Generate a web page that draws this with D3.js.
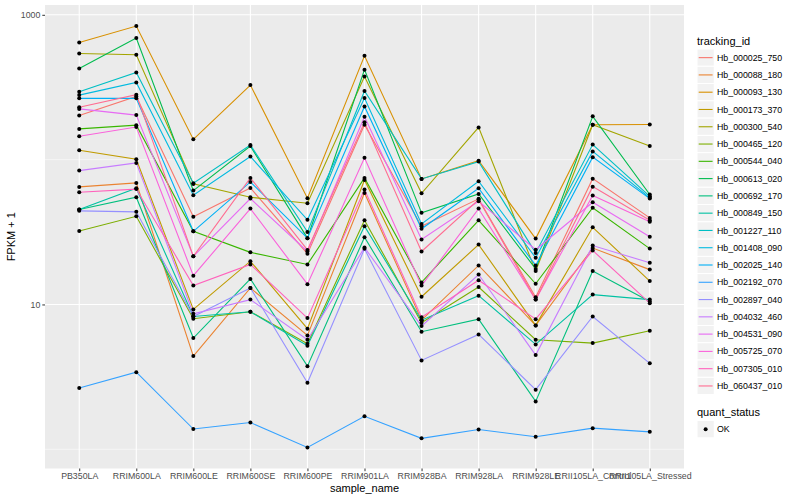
<!DOCTYPE html>
<html lang="en">
<head>
  <meta charset="UTF-8">
  <script src="https://d3js.org/d3.v7.min.js"></script>
  <style>
    body { margin: 0; background: white; }
    text { font-family: "Liberation Sans", Arial, sans-serif; }
  </style>
</head>
<body>
  <script>
    const width = 800, height = 500;

    const samples = ["PB350LA", "RRIM600LA", "RRIM600LE", "RRIM600SE", "RRIM600PE", "RRIM901LA",
      "RRIM928BA", "RRIM928LA", "RRIM928LE", "RRII105LA_Control", "RRII105LA_Stressed"];

    const trackingIds = ["Hb_000025_750", "Hb_000088_180", "Hb_000093_130", "Hb_000173_370", "Hb_000300_540",
      "Hb_000465_120", "Hb_000544_040", "Hb_000613_020", "Hb_000692_170", "Hb_000849_150",
      "Hb_001227_110", "Hb_001408_090", "Hb_002025_140", "Hb_002192_070", "Hb_002897_040",
      "Hb_004032_460", "Hb_004531_090", "Hb_005725_070", "Hb_007305_010", "Hb_060437_010"];

    // FPKM + 1, one value per sample
    const hb_000025_750 = [202, 273, 40.3, 63.8, 22.4, 174, 34.7, 53.6, 11.2, 73.9, 39.6];
    const hb_000088_180 = [64.8, 69.1, 4.40, 13.0, 6.11, 58.9, 7.79, 18.6, 7.17, 24.5, 17.4];
    const hb_000093_130 = [644, 836, 138, 327, 54.2, 521, 73.6, 98.4, 28.5, 174, 175];
    const hb_000173_370 = [116, 100.5, 9.24, 19.9, 6.80, 72.4, 11.3, 25.9, 7.17, 34.1, 14.5];
    const hb_000300_540 = [541, 530, 68.0, 55.0, 50.0, 375, 58.6, 167, 17.0, 174, 124];
    const hb_000465_120 = [32.2, 40.6, 7.97, 8.91, 5.36, 38.1, 7.48, 13.2, 5.71, 5.41, 6.59];
    const hb_000544_040 = [163, 173, 32.0, 22.9, 18.9, 74.8, 14.2, 38.1, 13.9, 46.5, 24.3];
    const hb_000613_020 = [426, 691, 61.1, 124, 28.7, 418, 42.9, 58.0, 17.6, 199, 57.4];
    const hb_000692_170 = [45.2, 55.0, 5.86, 15.0, 3.75, 29.1, 6.48, 7.92, 2.14, 17.0, 10.5];
    const hb_000849_150 = [45.2, 63.4, 8.26, 8.91, 5.19, 34.7, 7.79, 11.5, 5.30, 11.7, 10.8];
    const hb_001227_110 = [294, 400, 68.7, 126, 31.7, 298, 73.6, 96.9, 22.7, 127, 55.8];
    const hb_001408_090 = [279, 341, 56.8, 105, 38.4, 266, 36.0, 70.9, 21.0, 114, 54.5];
    const hb_002025_140 = [265, 265, 32.0, 70.2, 28.7, 233, 33.3, 63.4, 18.6, 104, 53.8];
    const hb_002192_070 = [2.65, 3.41, 1.38, 1.53, 1.03, 1.69, 1.19, 1.37, 1.22, 1.40, 1.32];
    const hb_002897_040 = [44.3, 43.6, 8.26, 13.0, 2.88, 24.2, 4.11, 6.21, 2.58, 8.26, 3.92];
    const hb_004032_460 = [84.0, 94.9, 8.62, 10.8, 5.71, 24.7, 7.09, 16.1, 4.47, 25.5, 19.4];
    const hb_004531_090 = [224, 203, 21.5, 53.8, 23.2, 198, 28.1, 51.6, 23.9, 50.8, 29.3];
    const hb_005725_070 = [145, 168, 15.8, 45.9, 13.8, 103, 13.5, 45.9, 10.8, 56.5, 37.2];
    const hb_007305_010 = [59.5, 62.6, 13.5, 18.9, 8.05, 62.1, 8.17, 14.7, 7.92, 23.6, 10.2];
    const hb_060437_010 = [230, 281, 21.5, 74.8, 23.8, 181, 23.2, 53.0, 10.8, 65.1, 38.1];

    const seriesValues = [hb_000025_750, hb_000088_180, hb_000093_130, hb_000173_370, hb_000300_540,
      hb_000465_120, hb_000544_040, hb_000613_020, hb_000692_170, hb_000849_150,
      hb_001227_110, hb_001408_090, hb_002025_140, hb_002192_070, hb_002897_040,
      hb_004032_460, hb_004531_090, hb_005725_070, hb_007305_010, hb_060437_010];

    const quantStatus = ["OK"];

    // ggplot default hue palette for 20 levels
    const palette = ["#F8766D", "#EA8331", "#D89000", "#C09B00", "#A3A500", "#7CAE00", "#39B600", "#00BB4E",
      "#00BF7D", "#00C1A3", "#00BFC4", "#00BAE0", "#00B0F6", "#35A2FF", "#9590FF", "#C77CFF",
      "#E76BF3", "#FA62DB", "#FF62BC", "#FF6C91"];

    const series = trackingIds.map((id, i) => ({
      id, color: palette[i],
      values: samples.map((s, j) => ({ sample: s, value: seriesValues[i][j] }))
    }));

    const panel = { left: 45, right: 684, top: 5, bottom: 468.5 };

    const svg = d3.select("body").append("svg").attr("width", width).attr("height", height);

    const allVals = seriesValues.flat();
    const lo = Math.log10(d3.min(allVals)), hi = Math.log10(d3.max(allVals));
    const pad = (hi - lo) * 0.05;

    const x = d3.scalePoint().domain(samples).range([panel.left, panel.right]).padding(0.6);
    const y = d3.scaleLog().domain([Math.pow(10, lo - pad), Math.pow(10, hi + pad)])
      .range([panel.bottom, panel.top]);

    // panel background + grid
    svg.append("rect")
      .attr("x", panel.left).attr("y", panel.top)
      .attr("width", panel.right - panel.left).attr("height", panel.bottom - panel.top)
      .attr("fill", "#EBEBEB");

    const minorY = [1, 100], majorY = [10, 1000];
    svg.selectAll(".minor").data(minorY).join("line")
      .attr("x1", panel.left).attr("x2", panel.right)
      .attr("y1", d => y(d)).attr("y2", d => y(d))
      .attr("stroke", "white").attr("stroke-width", 0.55);
    svg.selectAll(".majorY").data(majorY).join("line")
      .attr("x1", panel.left).attr("x2", panel.right)
      .attr("y1", d => y(d)).attr("y2", d => y(d))
      .attr("stroke", "white").attr("stroke-width", 1.1);
    svg.selectAll(".majorX").data(samples).join("line")
      .attr("x1", d => x(d)).attr("x2", d => x(d))
      .attr("y1", panel.top).attr("y2", panel.bottom)
      .attr("stroke", "white").attr("stroke-width", 1.1);

    // lines then points
    const line = d3.line().x(d => x(d.sample)).y(d => y(d.value));
    svg.append("g").selectAll("path").data(series).join("path")
      .attr("d", d => line(d.values))
      .attr("fill", "none")
      .attr("stroke", d => d.color)
      .attr("stroke-width", 1.1);

    svg.append("g").selectAll("circle").data(series.flatMap(s => s.values)).join("circle")
      .attr("cx", d => x(d.sample)).attr("cy", d => y(d.value))
      .attr("r", 2).attr("fill", "black");

    // axes
    const xAxis = svg.append("g").attr("transform", `translate(0,${panel.bottom})`)
      .call(d3.axisBottom(x).tickSize(2.7).tickPadding(2));
    const yAxis = svg.append("g").attr("transform", `translate(${panel.left},0)`)
      .call(d3.axisLeft(y).tickValues(majorY).tickFormat(d3.format("d")).tickSize(2.7).tickPadding(2));
    [xAxis, yAxis].forEach(g => {
      g.select(".domain").remove();
      g.selectAll(".tick line").attr("stroke", "#333333").attr("stroke-width", 1);
      g.selectAll(".tick text").attr("fill", "#4D4D4D").style("font-size", "8.8px");
    });

    svg.append("text").attr("x", (panel.left + panel.right) / 2).attr("y", 492)
      .attr("text-anchor", "middle").style("font-size", "11px").text("sample_name");
    svg.append("text").attr("transform", `translate(15,${(panel.top + panel.bottom) / 2}) rotate(-90)`)
      .attr("text-anchor", "middle").style("font-size", "11px").text("FPKM + 1");

    // legend
    const lg = svg.append("g").attr("transform", "translate(697,0)");
    lg.append("text").attr("x", 0).attr("y", 44.5).style("font-size", "11px").text("tracking_id");
    const keyH = 17.28, key0 = 49;
    const keys = lg.selectAll(".key").data(series).join("g")
      .attr("transform", (d, i) => `translate(0,${key0 + i * keyH})`);
    keys.append("rect").attr("width", keyH).attr("height", keyH)
      .attr("fill", "#F2F2F2").attr("stroke", "white").attr("stroke-width", 1);
    keys.append("line").attr("x1", 1.7).attr("x2", keyH - 1.7)
      .attr("y1", keyH / 2).attr("y2", keyH / 2)
      .attr("stroke", d => d.color).attr("stroke-width", 1.1);
    keys.append("text").attr("x", 20).attr("y", keyH / 2 + 3.1)
      .attr("fill", "black").style("font-size", "8.8px").text(d => d.id);

    lg.append("text").attr("x", 0).attr("y", 416).style("font-size", "11px").text("quant_status");
    const qk = lg.selectAll(".qkey").data(quantStatus).join("g")
      .attr("transform", (d, i) => `translate(0,${420.5 + i * keyH})`);
    qk.append("rect").attr("width", keyH).attr("height", keyH)
      .attr("fill", "#F2F2F2").attr("stroke", "white").attr("stroke-width", 1);
    qk.append("circle").attr("cx", keyH / 2).attr("cy", keyH / 2).attr("r", 2).attr("fill", "black");
    qk.append("text").attr("x", 20).attr("y", keyH / 2 + 3.1)
      .style("font-size", "8.8px").text(d => d);
  </script>
</body>
</html>
